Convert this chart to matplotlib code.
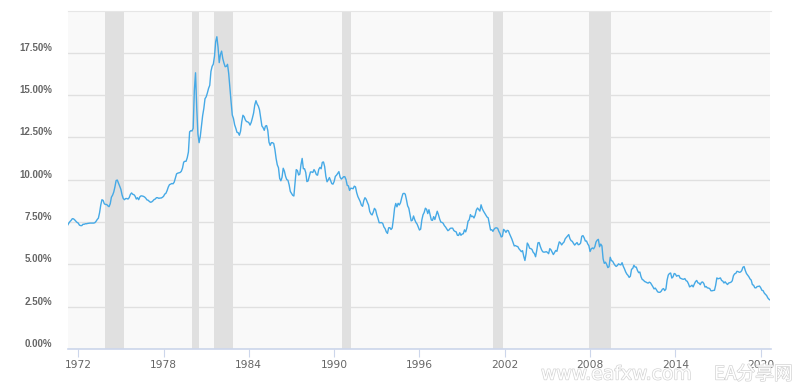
import numpy as np
import matplotlib
matplotlib.use('Agg')
import matplotlib.pyplot as plt
import matplotlib.transforms as mtransforms
import matplotlib.patheffects as pe

# 30-year fixed mortgage rate, monthly averages from Apr 1971 (percent)
start_year = 1971
start_month = 4
rates = [
    7.31, 7.43, 7.53, 7.60, 7.70, 7.69, 7.63, 7.55, 7.48,                   # 1971
    7.44, 7.32, 7.29, 7.29, 7.37, 7.37, 7.40, 7.40, 7.42, 7.43, 7.44, 7.44,   # 1972
    7.44, 7.44, 7.46, 7.54, 7.65, 7.73, 8.05, 8.50, 8.82, 8.78, 8.58, 8.54,   # 1973
    8.54, 8.46, 8.41, 8.58, 8.97, 9.09, 9.28, 9.59, 9.96, 9.98, 9.79, 9.62,   # 1974
    9.43, 9.10, 8.89, 8.82, 8.89, 8.89, 8.86, 8.94, 9.13, 9.22, 9.14, 9.12,   # 1975
    9.03, 8.86, 8.94, 8.82, 8.99, 9.05, 9.04, 9.02, 8.98, 8.91, 8.81, 8.79,   # 1976
    8.72, 8.67, 8.69, 8.75, 8.83, 8.86, 8.94, 8.94, 8.90, 8.92, 8.92, 8.96,   # 1977
    9.02, 9.15, 9.20, 9.36, 9.57, 9.71, 9.74, 9.78, 9.76, 9.86, 10.11, 10.35, # 1978
    10.39, 10.41, 10.43, 10.50, 10.69, 11.04, 11.09, 11.09, 11.30, 11.64, 12.83, 12.90,  # 1979
    12.88, 13.04, 15.28, 16.32, 14.26, 12.71, 12.19, 12.56, 13.20, 13.79, 14.21, 14.79,  # 1980
    14.90, 15.13, 15.40, 15.58, 16.40, 16.70, 16.83, 17.29, 18.16, 18.45, 17.83, 16.92,  # 1981
    17.40, 17.60, 17.16, 16.89, 16.68, 16.70, 16.82, 16.27, 15.43, 14.61, 13.83, 13.62,  # 1982
    13.25, 13.04, 12.80, 12.78, 12.63, 12.87, 13.42, 13.81, 13.73, 13.54, 13.44, 13.42,  # 1983
    13.37, 13.23, 13.39, 13.65, 13.94, 14.42, 14.67, 14.47, 14.35, 14.13, 13.64, 13.18,  # 1984
    13.08, 12.92, 13.17, 13.20, 12.91, 12.22, 12.03, 12.19, 12.19, 12.14, 11.78, 11.26,  # 1985
    10.88, 10.71, 10.08, 9.94, 10.14, 10.68, 10.51, 10.20, 10.01, 9.97, 9.70, 9.31,      # 1986
    9.20, 9.08, 9.04, 9.83, 10.60, 10.54, 10.28, 10.33, 10.89, 11.26, 10.65, 10.65,      # 1987
    10.43, 9.89, 9.93, 10.20, 10.46, 10.46, 10.43, 10.60, 10.48, 10.30, 10.27, 10.61,    # 1988
    10.73, 10.65, 11.03, 11.05, 10.77, 10.20, 9.88, 9.99, 10.13, 9.95, 9.77, 9.74,       # 1989
    9.90, 10.20, 10.27, 10.37, 10.48, 10.16, 10.04, 10.10, 10.18, 10.18, 10.01, 9.67,    # 1990
    9.64, 9.37, 9.50, 9.49, 9.47, 9.62, 9.58, 9.24, 9.01, 8.86, 8.71, 8.50,   # 1991
    8.43, 8.76, 8.94, 8.85, 8.67, 8.51, 8.13, 7.98, 7.92, 8.09, 8.31, 8.22,   # 1992
    7.92, 7.71, 7.46, 7.46, 7.47, 7.42, 7.21, 7.11, 6.92, 6.83, 7.16, 7.17,   # 1993
    7.06, 7.15, 7.68, 8.32, 8.60, 8.40, 8.61, 8.51, 8.64, 8.93, 9.17, 9.20,   # 1994
    9.15, 8.83, 8.46, 8.32, 7.96, 7.57, 7.61, 7.86, 7.64, 7.48, 7.38, 7.20,   # 1995
    7.03, 7.08, 7.62, 7.93, 8.07, 8.32, 8.25, 8.00, 8.23, 7.92, 7.62, 7.60,   # 1996
    7.82, 7.65, 7.90, 8.14, 7.94, 7.69, 7.50, 7.48, 7.43, 7.29, 7.21, 7.10,   # 1997
    6.99, 7.04, 7.13, 7.14, 7.14, 7.00, 6.95, 6.92, 6.72, 6.71, 6.87, 6.72,   # 1998
    6.79, 6.81, 7.04, 6.92, 7.15, 7.55, 7.63, 7.94, 7.82, 7.85, 7.74, 7.91,   # 1999
    8.21, 8.33, 8.24, 8.15, 8.52, 8.29, 8.15, 8.03, 7.91, 7.80, 7.75, 7.38,   # 2000
    7.03, 7.05, 6.95, 7.08, 7.15, 7.16, 7.13, 6.95, 6.82, 6.62, 6.66, 7.07,   # 2001
    7.00, 6.89, 7.01, 6.99, 6.81, 6.65, 6.49, 6.29, 6.09, 6.11, 6.07, 6.05,   # 2002
    5.92, 5.84, 5.75, 5.81, 5.48, 5.23, 5.63, 6.26, 6.15, 5.95, 5.93, 5.88,   # 2003
    5.71, 5.64, 5.45, 5.83, 6.27, 6.29, 6.06, 5.87, 5.75, 5.72, 5.73, 5.75,   # 2004
    5.71, 5.63, 5.93, 5.86, 5.72, 5.58, 5.70, 5.82, 5.77, 6.07, 6.33, 6.27,   # 2005
    6.15, 6.25, 6.32, 6.51, 6.60, 6.68, 6.76, 6.52, 6.40, 6.36, 6.24, 6.14,   # 2006
    6.22, 6.29, 6.16, 6.18, 6.26, 6.66, 6.70, 6.57, 6.38, 6.38, 6.21, 6.10,   # 2007
    5.76, 5.92, 5.97, 5.92, 6.04, 6.32, 6.43, 6.48, 6.04, 6.20, 6.09, 5.33,   # 2008
    5.06, 5.13, 5.00, 4.81, 4.86, 5.42, 5.22, 5.19, 5.06, 4.95, 4.88, 4.93,   # 2009
    5.03, 4.99, 4.97, 5.10, 4.89, 4.74, 4.56, 4.43, 4.35, 4.23, 4.30, 4.71,   # 2010
    4.76, 4.95, 4.84, 4.84, 4.64, 4.51, 4.55, 4.27, 4.11, 4.07, 3.99, 3.96,   # 2011
    3.92, 3.89, 3.95, 3.91, 3.80, 3.68, 3.55, 3.60, 3.50, 3.38, 3.35, 3.35,   # 2012
    3.41, 3.53, 3.57, 3.45, 3.54, 4.07, 4.37, 4.46, 4.49, 4.19, 4.26, 4.46,   # 2013
    4.43, 4.30, 4.34, 4.34, 4.19, 4.16, 4.13, 4.12, 4.16, 4.04, 4.00, 3.86,   # 2014
    3.67, 3.71, 3.77, 3.67, 3.84, 3.98, 4.05, 3.91, 3.89, 3.80, 3.94, 3.96,   # 2015
    3.87, 3.66, 3.69, 3.61, 3.60, 3.57, 3.44, 3.44, 3.46, 3.47, 3.77, 4.20,   # 2016
    4.15, 4.17, 4.20, 4.05, 4.01, 3.90, 3.97, 3.88, 3.81, 3.90, 3.92, 3.95,   # 2017
    4.03, 4.33, 4.44, 4.47, 4.59, 4.57, 4.53, 4.55, 4.63, 4.83, 4.87, 4.64,   # 2018
    4.46, 4.37, 4.27, 4.14, 4.07, 3.80, 3.77, 3.62, 3.61, 3.69, 3.70, 3.72,   # 2019
    3.62, 3.47, 3.45, 3.31, 3.23, 3.16, 3.02, 2.94, 2.89,                     # 2020
]

# recession periods (decimal years)
recession_start = [1973.9, 1980.0, 1981.55, 1990.55, 2001.2, 2007.95]
recession_end = [1975.25, 1980.5, 1982.9, 1991.2, 2001.9, 2009.5]

x_ticks = [1972, 1978, 1984, 1990, 1996, 2002, 2008, 2014, 2020]
y_ticks = [0, 2.5, 5, 7.5, 10, 12.5, 15, 17.5]

dates = start_year + (start_month - 1) / 12 + np.arange(len(rates)) / 12

fig = plt.figure(figsize=(8.04, 3.88), dpi=100)
ax = fig.add_axes([68 / 804, 39 / 388, 702.5 / 804, 338.5 / 388])
ax.set_facecolor('#f9f9f9')

for s, e in zip(recession_start, recession_end):
    ax.axvspan(s, e, color='#e0e0e0', lw=0, zorder=1)

ax.plot(dates, rates, color='#45a9e6', lw=1.0, zorder=3)

ax.set_xlim(1971.28, 2020.69)
ax.set_ylim(0, 20)
ax.set_yticks(y_ticks)
ax.set_yticklabels(['%.2f%%' % v for v in y_ticks])
ax.set_xticks(x_ticks)
ax.set_xticklabels([str(v) for v in x_ticks])

ax.grid(axis='y', color='#e0e0e0', lw=1, zorder=0)
ax.grid(axis='x', visible=False)
for side in ['right', 'left']:
    ax.spines[side].set_visible(False)
ax.spines['top'].set_color('#e6e6e6')
ax.spines['bottom'].set_color('#ccd6eb')
ax.spines['bottom'].set_linewidth(1.2)

ax.tick_params(axis='y', length=0, pad=11.5, labelsize=7.0, labelcolor='#666666')
ax.tick_params(axis='x', length=6, color='#ccd6eb', pad=2, labelsize=7.7,
               labelcolor='#666666')
for lab in ax.get_yticklabels():
    lab.set_fontfamily('Liberation Sans')
    lab.set_fontweight('bold')
    lab.set_transform(lab.get_transform() +
                      mtransforms.ScaledTranslation(0, 6 / 100, fig.dpi_scale_trans))

fig.text(541 / 804, 1 - 374 / 388, 'www.eafxw.com', fontsize=13.5, color='white',
         va='center', ha='left', family='DejaVu Sans',
         path_effects=[pe.withStroke(linewidth=1.0, foreground='#d4d4d4')])
fig.text(714 / 804, 1 - 374 / 388, 'EA分享网', fontsize=13.5, color='white',
         va='center', ha='left', family=['Noto Sans CJK SC', 'DejaVu Sans'],
         path_effects=[pe.withStroke(linewidth=1.0, foreground='#d4d4d4')])

fig.savefig('out.png', dpi=100, facecolor='white')
